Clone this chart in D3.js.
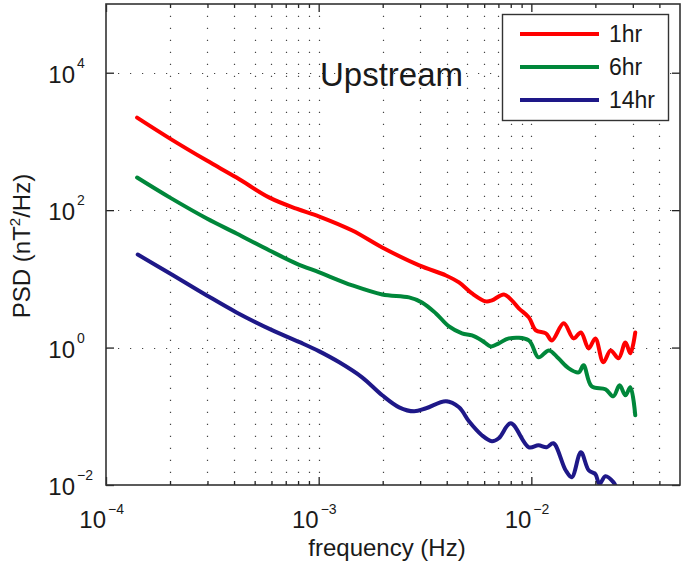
<!DOCTYPE html>
<html>
<head>
<meta charset="utf-8">
<script src="https://cdn.jsdelivr.net/npm/d3@7"></script>
<style>
  html, body { margin: 0; padding: 0; background: #fff; }
  svg { display: block; font-family: "Liberation Sans", Arial, sans-serif; }
</style>
</head>
<body>
<svg id="chart" width="682" height="562"></svg>
<script>
// Power spectral density of the upstream field for three window lengths
const seriesNames = ["1hr", "6hr", "14hr"];
const seriesColors = ["#ff0000", "#00873a", "#1e1888"];

const freq1hr = [1.40e-4, 2.00e-4, 2.98e-4, 4.11e-4, 5.87e-4, 7.86e-4, 1.007e-3, 1.44e-3, 1.99e-3, 2.97e-3,
  3.97e-3, 4.57e-3, 5.26e-3, 6.11e-3, 6.52e-3, 7.43e-3, 8.09e-3, 8.73e-3, 9.73e-3, 1.05e-2,
  1.17e-2, 1.25e-2, 1.42e-2, 1.58e-2, 1.71e-2, 1.86e-2, 2.00e-2, 2.18e-2, 2.36e-2, 2.57e-2,
  2.77e-2, 2.92e-2, 3.08e-2];
const psd1hr = [2218, 1099, 526, 298, 152, 105, 80.7, 50.5, 28.6, 15.7,
  11.2, 8.87, 6.14, 4.70, 4.86, 5.93, 4.86, 3.72, 2.75, 1.78,
  1.61, 1.27, 2.25, 1.36, 1.66, 0.973, 1.36, 0.610, 0.910, 0.697,
  1.19, 0.824, 1.66];

const freq6hr = [1.40e-4, 2.00e-4, 2.98e-4, 4.11e-4, 5.87e-4, 7.86e-4, 1.007e-3, 1.44e-3, 1.99e-3, 2.66e-3,
  3.06e-3, 3.56e-3, 4.10e-3, 4.72e-3, 5.26e-3, 5.85e-3, 6.45e-3, 7.03e-3, 7.84e-3, 9.73e-3,
  1.08e-2, 1.21e-2, 1.34e-2, 1.50e-2, 1.67e-2, 1.76e-2, 1.92e-2, 2.23e-2, 2.43e-2, 2.60e-2,
  2.77e-2, 2.92e-2, 3.08e-2];
const psd6hr = [298, 152, 75.5, 45.7, 25.9, 16.7, 12.4, 8.02, 5.93, 5.37,
  4.54, 3.14, 2.03, 1.61, 1.50, 1.27, 1.04, 1.15, 1.36, 1.27,
  0.721, 0.910, 0.697, 0.499, 0.436, 0.551, 0.273, 0.247, 0.195, 0.282,
  0.202, 0.264, 0.1035];

const freq14hr = [1.41e-4, 2.00e-4, 2.98e-4, 4.11e-4, 6.07e-4, 8.39e-4, 1.007e-3, 1.25e-3, 1.60e-3, 1.99e-3,
  2.39e-3, 2.81e-3, 3.20e-3, 3.97e-3, 4.57e-3, 5.09e-3, 5.85e-3, 6.52e-3, 7.03e-3, 8.0e-3,
  9.73e-3, 1.08e-2, 1.18e-2, 1.27e-2, 1.45e-2, 1.55e-2, 1.71e-2, 1.86e-2, 2.00e-2, 2.09e-2,
  2.23e-2, 2.43e-2, 2.54e-2];
const psd14hr = [22.6, 12.0, 5.74, 3.25, 1.78, 1.15, 0.88, 0.610, 0.369, 0.202,
  0.135, 0.118, 0.131, 0.165, 0.135, 0.0845, 0.0530, 0.0434, 0.0479, 0.0791,
  0.0354, 0.0378, 0.0354, 0.0405, 0.0164, 0.0130, 0.0300, 0.0164, 0.0144, 0.0103,
  0.0134, 0.0110, 0.0084];

const xMajorTicks = [1e-4, 1e-3, 1e-2];
const xTickExponents = ["\u22124", "\u22123", "\u22122"];
const yMajorTicks = [1e-2, 1e0, 1e2, 1e4];
const yTickExponents = ["\u22122", "0", "2", "4"];

const titleText = "Upstream";
const xLabel = "frequency (Hz)";

// ---- layout
const plot = { left: 106, right: 680, top: 4, bottom: 485 };

const x = d3.scaleLog().domain([1e-4, 5e-2]).range([plot.left, plot.right]);
const y = d3.scaleLog().domain([1e-2, 1e5]).range([plot.bottom, plot.top]);

const svg = d3.select("#chart");

svg.append("defs").append("clipPath").attr("id", "plotClip")
  .append("rect")
  .attr("x", plot.left).attr("y", plot.top)
  .attr("width", plot.right - plot.left).attr("height", plot.bottom - plot.top);

// minor positions for the log x axis: 2..9 of each decade inside the domain
const xMinor = [];
[1e-4, 1e-3, 1e-2].forEach(d => {
  for (let k = 2; k <= 9; k++) {
    const v = k * d;
    if (v < x.domain()[1]) xMinor.push(v);
  }
});

// ---- dotted grid
const grid = svg.append("g").attr("stroke", "#444").attr("stroke-width", 1.2)
  .attr("stroke-dasharray", "1.2,10.8").attr("fill", "none");
grid.selectAll("line.vx")
  .data(xMinor.concat([1e-3, 1e-2]))
  .join("line")
  .attr("x1", d => Math.round(x(d)) + 0.5).attr("x2", d => Math.round(x(d)) + 0.5)
  .attr("y1", plot.bottom).attr("y2", plot.top);
grid.selectAll("line.hy")
  .data([1e0, 1e2, 1e4])
  .join("line")
  .attr("y1", d => Math.round(y(d)) + 0.5).attr("y2", d => Math.round(y(d)) + 0.5)
  .attr("x1", plot.left).attr("x2", plot.right);

// ---- curves
const series = [
  { name: seriesNames[0], color: seriesColors[0], f: freq1hr, p: psd1hr },
  { name: seriesNames[1], color: seriesColors[1], f: freq6hr, p: psd6hr },
  { name: seriesNames[2], color: seriesColors[2], f: freq14hr, p: psd14hr }
];

const line = d3.line()
  .x(d => x(d[0]))
  .y(d => y(d[1]))
  .curve(d3.curveCatmullRom.alpha(0.5));

svg.append("g").attr("clip-path", "url(#plotClip)")
  .selectAll("path")
  .data(series)
  .join("path")
  .attr("fill", "none")
  .attr("stroke", d => d.color)
  .attr("stroke-width", 4)
  .attr("stroke-linejoin", "round")
  .attr("stroke-linecap", "round")
  .attr("d", d => line(d.f.map((f, i) => [f, d.p[i]])));

// ---- axes (ticks point inward, box drawn on all four sides)
const tickColor = "#222";
function styleAxis(g) {
  g.select(".domain").remove();
  g.selectAll(".tick line").attr("stroke", tickColor).attr("stroke-width", 1.3);
  g.selectAll(".tick text").remove();
}

const xAxisB = svg.append("g").attr("transform", `translate(0,${plot.bottom})`)
  .call(d3.axisBottom(x).tickValues(xMajorTicks).tickSize(-8).tickFormat(""));
styleAxis(xAxisB);
const xAxisBm = svg.append("g").attr("transform", `translate(0,${plot.bottom})`)
  .call(d3.axisBottom(x).tickValues(xMinor).tickSize(-4).tickFormat(""));
styleAxis(xAxisBm);
const xAxisT = svg.append("g").attr("transform", `translate(0,${plot.top})`)
  .call(d3.axisTop(x).tickValues(xMajorTicks).tickSize(-8).tickFormat(""));
styleAxis(xAxisT);
const xAxisTm = svg.append("g").attr("transform", `translate(0,${plot.top})`)
  .call(d3.axisTop(x).tickValues(xMinor).tickSize(-4).tickFormat(""));
styleAxis(xAxisTm);
const yAxisL = svg.append("g").attr("transform", `translate(${plot.left},0)`)
  .call(d3.axisLeft(y).tickValues(yMajorTicks).tickSize(-8).tickFormat(""));
styleAxis(yAxisL);
const yAxisR = svg.append("g").attr("transform", `translate(${plot.right},0)`)
  .call(d3.axisRight(y).tickValues(yMajorTicks).tickSize(-8).tickFormat(""));
styleAxis(yAxisR);

svg.append("rect")
  .attr("x", plot.left).attr("y", plot.top)
  .attr("width", plot.right - plot.left).attr("height", plot.bottom - plot.top)
  .attr("fill", "none").attr("stroke", "#333").attr("stroke-width", 1.6);

// ---- tick labels: base "10" with exponent
const labelColor = "#1a1a1a";
const xLab = svg.append("g").attr("fill", labelColor);
xMajorTicks.forEach((v, i) => {
  const px = x(v);
  xLab.append("text").attr("x", px).attr("y", 528)
    .attr("text-anchor", "end").attr("font-size", 24).text("10");
  xLab.append("text").attr("x", px + 2).attr("y", 514)
    .attr("text-anchor", "start").attr("font-size", 14).text(xTickExponents[i]);
});
const yLab = svg.append("g").attr("fill", labelColor);
yMajorTicks.forEach((v, i) => {
  const py = y(v);
  yLab.append("text").attr("x", 75).attr("y", py + 10)
    .attr("text-anchor", "end").attr("font-size", 24).text("10");
  yLab.append("text").attr("x", 77).attr("y", py - 5)
    .attr("text-anchor", "start").attr("font-size", 14).text(yTickExponents[i]);
});

// ---- axis titles
svg.append("text").attr("x", (plot.left + plot.right) / 2 - 6).attr("y", 556)
  .attr("text-anchor", "middle").attr("font-size", 24).attr("fill", labelColor)
  .text(xLabel);

const yTitle = svg.append("text")
  .attr("transform", "translate(30,246) rotate(-90)")
  .attr("text-anchor", "middle").attr("font-size", 24).attr("fill", labelColor);
yTitle.append("tspan").text("PSD (nT");
yTitle.append("tspan").attr("font-size", 15).attr("dy", -10).text("2");
yTitle.append("tspan").attr("dy", 10).text("/Hz)");

// ---- panel title
svg.append("text").attr("x", 320).attr("y", 86)
  .attr("font-size", 33).attr("fill", labelColor).text(titleText);

// ---- legend
const lg = svg.append("g");
lg.append("rect").attr("x", 502.5).attr("y", 14.5).attr("width", 166).attr("height", 106)
  .attr("fill", "#fff").attr("stroke", "#333").attr("stroke-width", 1.4);
series.forEach((s, i) => {
  const ly = 34 + i * 33;
  lg.append("line").attr("x1", 520).attr("x2", 599).attr("y1", ly).attr("y2", ly)
    .attr("stroke", s.color).attr("stroke-width", 4);
  lg.append("text").attr("x", 609).attr("y", ly + 8).attr("font-size", 23)
    .attr("fill", labelColor).text(s.name);
});
</script>
</body>
</html>
